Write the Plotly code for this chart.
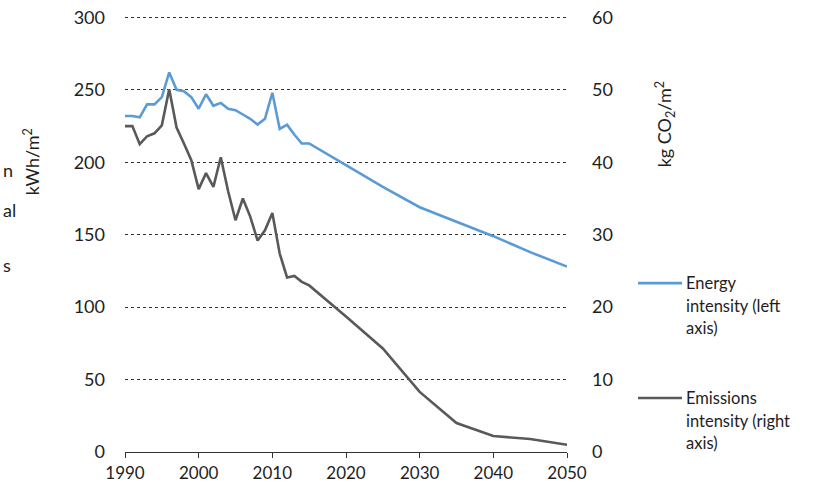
import plotly.graph_objects as go

years_hist = list(range(1990, 2016))
years_proj = [2020, 2025, 2030, 2035, 2040, 2045, 2050]
years = years_hist + years_proj

energy_intensity = [232, 232, 231, 240, 240, 245, 262, 250, 249, 245, 237, 247, 239, 241, 237, 236,
                    233, 230, 226, 230, 248, 223, 226, 219, 213, 213,
                    198, 183, 169, 159, 149, 138, 128]
emissions_intensity = [45.0, 45.0, 42.5, 43.6, 44.0, 45.1, 50.1, 44.8, 42.6, 40.3, 36.3, 38.5, 36.6, 40.7,
                       36.0, 32.0, 35.0, 32.5, 29.2, 30.6, 33.0, 27.4, 24.1, 24.3, 23.5, 23.0,
                       18.7, 14.3, 8.3, 4.0, 2.2, 1.8, 1.0]

left_ticks = [0, 50, 100, 150, 200, 250, 300]
right_ticks = [0, 10, 20, 30, 40, 50, 60]
x_ticks = [1990, 2000, 2010, 2020, 2030, 2040, 2050]

series_names = [["Energy", "intensity (left", "axis)"],
                ["Emissions", "intensity (right", "axis)"]]
series_colors = ["#5B9BD5", "#595959"]

FONT = "Lato"
TXT = "#1e1e1e"

# small headroom above the top gridline so it is drawn (plotly skips grid at the exact edge)
Y_TOP = 301
W, H = 824, 482
L = 125
PW = 442
PX_PER_UNIT = 435 / 300
PH = Y_TOP * PX_PER_UNIT
B = 30
T = H - B - PH
R = W - L - PW


def px(xp):   # window pixel -> paper x
    return (xp - L) / PW


def py(yp):   # window pixel -> paper y
    return (H - B - yp) / PH


fig = go.Figure()
fig.add_trace(go.Scatter(x=years, y=energy_intensity, mode="lines",
                         name=" ".join(series_names[0]),
                         line=dict(color=series_colors[0], width=2.6)))
fig.add_trace(go.Scatter(x=years, y=emissions_intensity, mode="lines", yaxis="y2",
                         name=" ".join(series_names[1]),
                         line=dict(color=series_colors[1], width=2.6)))

annotations = [
    dict(text="kWh/m<sup>2</sup>", textangle=-90, xref="paper", yref="paper",
         x=px(32), y=py(162), xanchor="center", yanchor="middle",
         showarrow=False, font=dict(size=18, color=TXT)),
    dict(text="kg CO<sub>2</sub>/m<sup>2</sup>", textangle=-90, xref="paper", yref="paper",
         x=px(665), y=py(124), xanchor="center", yanchor="middle",
         showarrow=False, font=dict(size=18, color=TXT)),
]
for txt, yy in [("n", 170), ("al", 210), ("s", 265)]:
    annotations.append(dict(text=txt, xref="paper", yref="paper", x=px(1), y=py(yy),
                            xanchor="left", yanchor="middle", showarrow=False,
                            font=dict(size=18, color=TXT)))

shapes = []
legend_top = [283, 398]
for i in range(2):
    y0 = legend_top[i]
    shapes.append(dict(type="line", xref="paper", yref="paper",
                       x0=px(638), x1=px(682), y0=py(y0), y1=py(y0),
                       line=dict(color=series_colors[i], width=2.6)))
    for j, line_txt in enumerate(series_names[i]):
        annotations.append(dict(text=line_txt, xref="paper", yref="paper",
                                x=px(684), y=py(y0 + j * 22.5), xanchor="left", yanchor="middle",
                                showarrow=False, font=dict(size=16.5, color=TXT)))

fig.update_layout(
    width=W, height=H,
    margin=dict(l=L, r=R, t=T, b=B),
    paper_bgcolor="white", plot_bgcolor="white",
    font=dict(family=FONT, size=18, color=TXT),
    showlegend=False,
    xaxis=dict(range=[1990, 2050], tickvals=x_ticks, showgrid=False, zeroline=False,
               showline=True, linecolor="#333333", linewidth=1.2, automargin=False,
               ticks="outside", ticklen=5, tickcolor="#333333", tickwidth=1.2,
               ticklabelstandoff=0, ticklabeloverflow="allow",
               tickfont=dict(size=17, color=TXT)),
    yaxis=dict(range=[0, Y_TOP], tickvals=left_ticks, showgrid=True, gridcolor="#333333",
               griddash="dot", gridwidth=1, zeroline=False, showline=False, automargin=False,
               ticks="", ticklabelstandoff=19, ticklabeloverflow="allow",
               tickfont=dict(size=18, color=TXT)),
    yaxis2=dict(range=[0, Y_TOP / 5], tickvals=right_ticks, overlaying="y", side="right",
                showgrid=False, zeroline=False, showline=False, ticks="", automargin=False,
                ticklabelstandoff=24, ticklabeloverflow="allow",
                tickfont=dict(size=18, color=TXT)),
    annotations=annotations,
    shapes=shapes,
)

fig.write_html("out.html", config={"displayModeBar": False},
               post_script="document.body.style.margin='0';document.body.style.padding='0';")
